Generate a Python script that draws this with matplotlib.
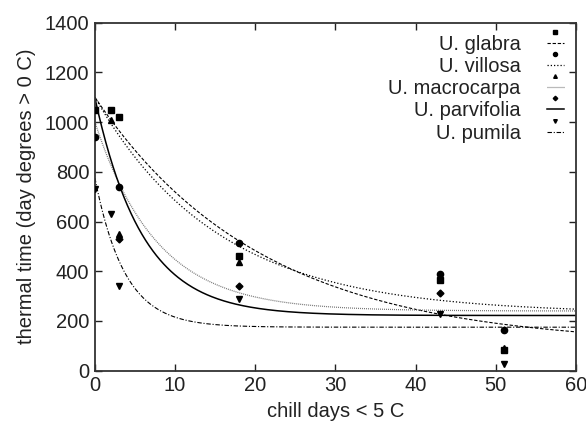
import numpy as np
import matplotlib

matplotlib.use("Agg")
import matplotlib.pyplot as plt
from matplotlib.legend_handler import HandlerLine2DCompound
from matplotlib.lines import Line2D

SPECIES = ["U. glabra", "U. villosa", "U. macrocarpa", "U. parvifolia", "U. pumila"]

# observed points (chill days, thermal time)
GLABRA_X = [0, 2, 3, 18, 43, 51]
GLABRA_Y = [1050, 1050, 1022, 461, 365, 83]
VILLOSA_X = [0, 3, 18, 43, 51]
VILLOSA_Y = [940, 740, 512, 388, 164]
MACRO_X = [2, 3, 18, 51]
MACRO_Y = [1010, 549, 436, 90]
PARVI_X = [3, 18, 43]
PARVI_Y = [530, 341, 314]
PUMILA_X = [0, 2, 3, 18, 43, 51]
PUMILA_Y = [730, 629, 342, 288, 227, 26]

# fitted curves: y = asym + amp * exp(-rate * x)
ASYMPTOTE = [100, 230, 240, 222, 175]
AMPLITUDE = [1000, 870, 760, 875, 600]
RATE = [0.048, 0.065, 0.13, 0.168, 0.27]

POINTS = [(GLABRA_X, GLABRA_Y), (VILLOSA_X, VILLOSA_Y), (MACRO_X, MACRO_Y),
          (PARVI_X, PARVI_Y), (PUMILA_X, PUMILA_Y)]
MARKERS = [("s", 5), ("o", 4.5), ("^", 4), ("D", 3.5), ("v", 4)]
STYLES = [
    dict(color="black", lw=0.8, ls=(0, (3, 1.6))),
    dict(color="black", lw=0.9, ls=(0, (1, 1.6))),
    dict(color="#777777", lw=0.9, ls=(0, (0.8, 0.8))),
    dict(color="black", lw=1.1, ls="-"),
    dict(color="black", lw=0.8, ls=(0, (4, 1.6, 1, 1.6))),
]

TEXT = "#222222"
plt.rcParams["font.family"] = ["Liberation Sans", "DejaVu Sans"]
plt.rcParams["font.size"] = 14.5
plt.rcParams["text.color"] = TEXT
plt.rcParams["axes.labelcolor"] = TEXT
plt.rcParams["xtick.color"] = TEXT
plt.rcParams["ytick.color"] = TEXT


class RaisedMarkerHandler(HandlerLine2DCompound):
    """gnuplot-ish key: marker sits above the line sample."""

    def create_artists(self, legend, orig_handle, xdescent, ydescent,
                       width, height, fontsize, trans):
        artists = super().create_artists(legend, orig_handle, xdescent, ydescent,
                                         width, height, fontsize, trans)
        marker = artists[-1]
        marker.set_ydata(np.asarray(marker.get_ydata()) + 0.55 * fontsize)
        return artists


fig = plt.figure(figsize=(5.86, 4.22), dpi=100)
ax = fig.add_axes([0.162, 0.1216, 0.821, 0.8246])

xs = np.linspace(0, 60, 400)
handles = []
for i, name in enumerate(SPECIES):
    px, py = POINTS[i]
    m, ms = MARKERS[i]
    ax.plot(px, py, ls="none", marker=m, ms=ms, color="black", zorder=3)
    ax.plot(xs, ASYMPTOTE[i] + AMPLITUDE[i] * np.exp(-RATE[i] * xs), **STYLES[i])
    handles.append(Line2D([], [], marker=m, ms=ms * 0.65, mfc="black", mec="black", **STYLES[i]))

ax.set_xlim(0, 60)
ax.set_ylim(0, 1400)
ax.set_xticks(np.arange(0, 61, 10))
ax.set_yticks(np.arange(0, 1401, 200))
ax.tick_params(direction="in", length=5, width=1, top=True, right=True, pad=4)
for s in ax.spines.values():
    s.set_linewidth(1.3)
    s.set_color("#333333")

ax.set_xlabel("chill days < 5 C", labelpad=5)
ax.set_ylabel("thermal time (day degrees > 0 C)", labelpad=6)

leg = ax.legend(handles, SPECIES, loc="upper right", frameon=False,
                markerfirst=False, handlelength=0.85, handletextpad=1.3,
                labelspacing=0.16, borderaxespad=0.2, numpoints=1,
                handler_map={Line2D: RaisedMarkerHandler()})

fig.savefig("out.png", dpi=100)
plt.close(fig)
